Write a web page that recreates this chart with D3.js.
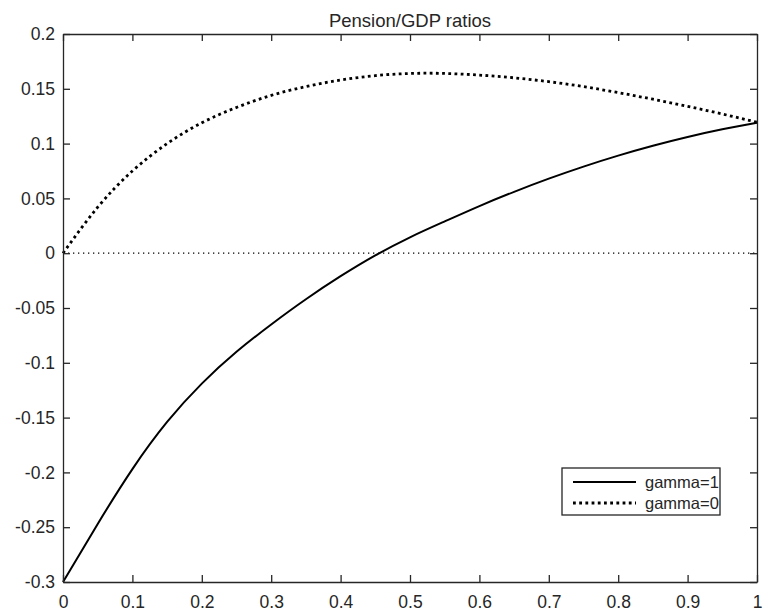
<!DOCTYPE html>
<html>
<head>
<meta charset="utf-8">
<script src="https://cdn.jsdelivr.net/npm/d3@7"></script>
<style>
  body { margin: 0; background: #fff; }
  svg text { font-family: "Liberation Sans", Arial, Helvetica, sans-serif; fill: #262626; }
</style>
</head>
<body>
<svg id="chart" width="763" height="616"></svg>
<script>
// data
const xValues = [0, 0.05, 0.1, 0.15, 0.2, 0.25, 0.3, 0.35, 0.4, 0.45, 0.5, 0.55, 0.6, 0.65, 0.7, 0.75, 0.8, 0.85, 0.9, 0.95, 1];
const gamma1 = [-0.300, -0.247, -0.197, -0.154, -0.119, -0.090, -0.065, -0.042, -0.021, -0.002, 0.0145, 0.029, 0.043, 0.056, 0.068, 0.079, 0.089, 0.098, 0.106, 0.113, 0.119];
const gamma0 = [0.000, 0.042, 0.075, 0.100, 0.119, 0.133, 0.144, 0.152, 0.158, 0.162, 0.164, 0.164, 0.1625, 0.160, 0.1565, 0.152, 0.1465, 0.1405, 0.134, 0.127, 0.1195];
const xTicks = [0, 0.1, 0.2, 0.3, 0.4, 0.5, 0.6, 0.7, 0.8, 0.9, 1];
const yTicks = [-0.3, -0.25, -0.2, -0.15, -0.1, -0.05, 0, 0.05, 0.1, 0.15, 0.2];
const seriesNames = ["gamma=1", "gamma=0"];
const titleText = "Pension/GDP ratios";

const margin = {top: 34, right: 6, bottom: 34, left: 63};
const width = 763 - margin.left - margin.right;
const height = 616 - margin.top - margin.bottom;
const axisColor = "#262626";

const svg = d3.select("#chart");
const g = svg.append("g").attr("transform", "translate(" + margin.left + "," + margin.top + ")");

const x = d3.scaleLinear().domain([0, 1]).range([0, width]);
const y = d3.scaleLinear().domain([-0.3, 0.2]).range([height, 0]);

// zero reference line
g.append("line")
    .attr("x1", x(0)).attr("x2", x(1))
    .attr("y1", y(0)).attr("y2", y(0))
    .attr("stroke", "#000").attr("stroke-width", 1.2)
    .attr("stroke-dasharray", "1.3,3.7");

const line = d3.line()
    .x((d, i) => x(xValues[i]))
    .y(d => y(d))
    .curve(d3.curveNatural);

g.append("path").datum(gamma1)
    .attr("fill", "none").attr("stroke", "#000").attr("stroke-width", 2)
    .attr("d", line);
g.append("path").datum(gamma0)
    .attr("fill", "none").attr("stroke", "#000").attr("stroke-width", 2.8)
    .attr("stroke-dasharray", "2.8,3.4")
    .attr("d", line);

// axes (ticks inward, box on all four sides)
const fontSize = 17.5;
const fmt = d => String(d);
const xAxis = g.append("g").attr("transform", "translate(0," + height + ")")
    .call(d3.axisBottom(x).tickValues(xTicks).tickSizeInner(-7).tickSizeOuter(0).tickPadding(14).tickFormat(fmt));
const xTop = g.append("g")
    .call(d3.axisTop(x).tickValues(xTicks).tickSizeInner(-7).tickSizeOuter(0).tickFormat(""));
const yAxis = g.append("g")
    .call(d3.axisLeft(y).tickValues(yTicks).tickSizeInner(-7).tickSizeOuter(0).tickPadding(8).tickFormat(fmt));
const yRight = g.append("g").attr("transform", "translate(" + width + ",0)")
    .call(d3.axisRight(y).tickValues(yTicks).tickSizeInner(-7).tickSizeOuter(0).tickFormat(""));

[xAxis, xTop, yAxis, yRight].forEach(a => {
    a.select(".domain").attr("stroke", axisColor).attr("stroke-width", 1.3);
    a.selectAll(".tick line").attr("stroke", axisColor).attr("stroke-width", 1.3);
    a.selectAll("text").attr("font-size", fontSize).attr("fill", axisColor)
        .style("font-family", "'Liberation Sans', Arial, sans-serif");
});

// title
svg.append("text")
    .attr("x", margin.left + width / 2).attr("y", 27)
    .attr("text-anchor", "middle").attr("font-size", 18.5)
    .text(titleText);

// legend
const legend = svg.append("g").attr("transform", "translate(562,468)");
legend.append("rect")
    .attr("width", 158).attr("height", 47)
    .attr("fill", "#fff").attr("stroke", axisColor).attr("stroke-width", 1.3);
const styles = [{w: 2, dash: null}, {w: 2.8, dash: "2.8,3.4"}];
seriesNames.forEach((name, i) => {
    const row = legend.append("g").attr("transform", "translate(0," + (14 + i * 21) + ")");
    row.append("line").attr("x1", 11).attr("x2", 74).attr("y1", 0).attr("y2", 0)
        .attr("stroke", "#000").attr("stroke-width", styles[i].w)
        .attr("stroke-dasharray", styles[i].dash);
    row.append("text").attr("x", 83).attr("y", 6).attr("font-size", 16.5).text(name);
});
</script>
</body>
</html>
